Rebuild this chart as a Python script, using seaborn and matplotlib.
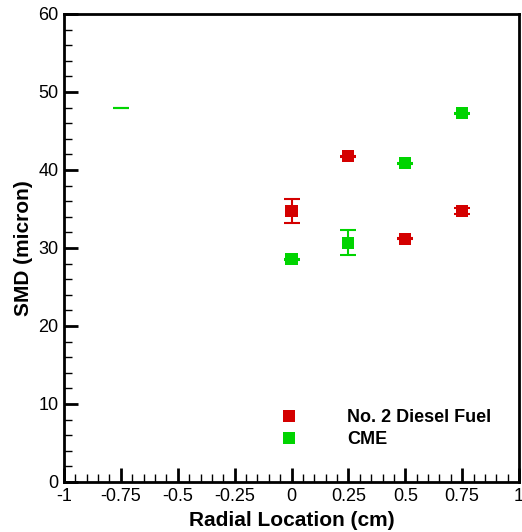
import numpy as np
import pandas as pd
import matplotlib
matplotlib.use("Agg")
import matplotlib.pyplot as plt
import seaborn as sns
from matplotlib.ticker import MultipleLocator, FixedLocator

# data
radial = [0.0, 0.25, 0.5, 0.75]
diesel_smd = [34.7, 41.75, 31.2, 34.7]
diesel_err = [1.55, 0.1, 0.1, 0.37]
cme_smd = [28.55, 30.7, 40.85, 47.25]
cme_err = [0.1, 1.6, 0.1, 0.1]
# lone CME point at -0.75 shows only a flat error cap, no marker
cme_lone_x = [-0.75]
cme_lone_smd = [47.9]

xticks = [-1, -0.75, -0.5, -0.25, 0, 0.25, 0.5, 0.75, 1]
xtick_labels = ["-1", "-0.75", "-0.5", "-0.25", "0", "0.25", "0.5", "0.75", "1"]

red = "#d40000"
green = "#00d400"

sns.set_style("white")
plt.rcParams['font.family'] = ['Liberation Sans', 'DejaVu Sans']
plt.rcParams.update({"text.color": "black", "axes.labelcolor": "black",
                     "xtick.color": "black", "ytick.color": "black"})

df = pd.DataFrame({
    "x": radial * 2,
    "smd": diesel_smd + cme_smd,
    "err": diesel_err + cme_err,
    "fuel": ["No. 2 Diesel Fuel"] * 4 + ["CME"] * 4,
})

fig = plt.figure(figsize=(5.22, 5.32), dpi=100)
ax = fig.add_axes([0.1226, 0.094, 0.8717, 0.8797])

for fuel, col in [("No. 2 Diesel Fuel", red), ("CME", green)]:
    d = df[df.fuel == fuel]
    ax.errorbar(d.x, d.smd, yerr=d.err, fmt="none", ecolor=col,
                elinewidth=1.5, capsize=5.5, capthick=1.5, zorder=2)
ax.errorbar(cme_lone_x, cme_lone_smd, yerr=[0.0], fmt="none", ecolor=green,
            elinewidth=1.5, capsize=5.5, capthick=1.5, zorder=2)

sns.scatterplot(data=df, x="x", y="smd", hue="fuel",
                palette={"No. 2 Diesel Fuel": red, "CME": green},
                marker="s", s=75, linewidth=0, ax=ax, zorder=3, legend=True)

ax.set_xlim(-1, 1)
ax.set_ylim(0, 60)
ax.xaxis.set_major_locator(FixedLocator(xticks))
ax.set_xticklabels(xtick_labels)
ax.xaxis.set_minor_locator(MultipleLocator(0.05))
ax.yaxis.set_major_locator(MultipleLocator(10))
ax.yaxis.set_minor_locator(MultipleLocator(2))

ax.tick_params(which="major", direction="in", length=10, width=2,
               labelsize=13, bottom=True, left=True, top=False, right=False, pad=4)
ax.tick_params(which="minor", direction="in", length=6, width=1,
               bottom=True, left=True, top=False, right=False)
for s in ax.spines.values():
    s.set_linewidth(2)
    s.set_color("black")

ax.set_xlabel("Radial Location (cm)", fontsize=15, fontweight="bold", labelpad=5)
ax.set_ylabel("SMD (micron)", fontsize=15, fontweight="bold", labelpad=4)

handles, labels = ax.get_legend_handles_labels()
leg = ax.legend(handles, labels, loc="upper left", bbox_to_anchor=(0.42, 0.19),
                frameon=False, handletextpad=2.2, labelspacing=0.25,
                prop={"weight": "bold", "size": 13})

fig.savefig("out.png", dpi=100)
